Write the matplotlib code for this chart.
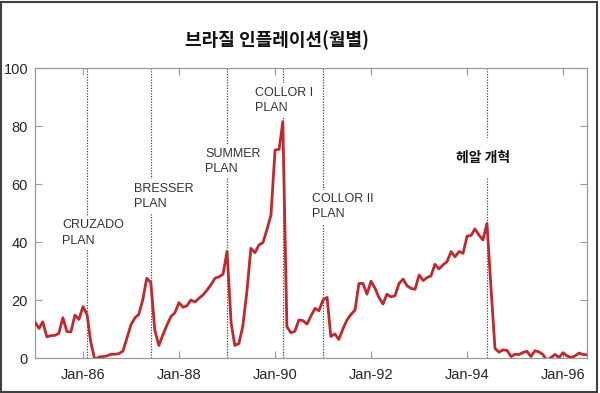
import matplotlib
matplotlib.use("Agg")
import matplotlib.pyplot as plt
import matplotlib.dates as mdates
import matplotlib.patches as patches
import pandas as pd
import numpy as np

plt.rcParams['font.family'] = ['Liberation Sans', 'Noto Sans CJK KR', 'DejaVu Sans']

title = "브라질 인플레이션(월별)"
start_month = "1985-01"
inflation = [
    # 1985
    12.3, 10.2, 12.5, 7.3, 7.7, 7.8, 8.5, 13.9, 9.1, 9.0, 14.8, 13.3,
    # 1986
    17.7, 15.0, 5.5, -0.6, 0.3, 0.5, 0.7, 1.3, 1.3, 1.5, 2.4, 6.8,
    # 1987
    11.5, 13.9, 15.0, 20.1, 27.5, 26.0, 9.7, 4.3, 8.0, 11.3, 14.3, 15.6,
    # 1988
    19.1, 17.5, 18.0, 20.0, 19.3, 20.6, 21.7, 23.4, 25.3, 27.5, 28.0, 28.9,
    # 1989
    36.7, 12.0, 4.3, 5.0, 11.0, 23.0, 37.8, 36.3, 39.0, 39.8, 44.4, 49.3,
    # 1990
    71.7, 72.0, 81.5, 10.8, 8.7, 9.2, 13.1, 12.9, 11.7, 14.5, 17.1, 16.3,
    # 1991
    20.0, 20.9, 7.4, 8.3, 6.4, 10.0, 13.0, 15.0, 16.5, 25.7, 25.7, 22.0,
    # 1992
    26.5, 24.0, 20.9, 18.6, 22.0, 21.1, 21.4, 25.7, 27.2, 24.9, 24.0, 23.7,
    # 1993
    28.6, 26.7, 27.7, 28.3, 32.3, 30.7, 32.1, 33.2, 36.7, 34.9, 36.7, 36.1,
    # 1994
    42.0, 42.3, 44.5, 42.4, 40.7, 46.4, 24.7, 3.3, 2.0, 2.8, 2.6, 0.5,
    # 1995
    1.3, 1.2, 1.9, 2.3, 0.5, 2.5, 2.1, 1.2, -1.0, 0.2, 1.2, 0.2,
    # 1996
    1.8, 0.7, 0.2, 0.7, 1.7, 1.2, 1.1,
]
plan_dates = ["1986-02", "1987-06", "1989-01", "1990-03", "1991-01", "1994-06"]
plan_labels = ["CRUZADO\nPLAN", "BRESSER\nPLAN", "SUMMER\nPLAN",
               "COLLOR I\nPLAN", "COLLOR II\nPLAN", "헤알 개혁"]
tick_dates = ["1986-01", "1988-01", "1990-01", "1992-01", "1994-01", "1996-01"]
y_ticks = [0, 20, 40, 60, 80, 100]

dates = pd.date_range(start_month, periods=len(inflation), freq="MS")

fig = plt.figure(figsize=(6.0, 3.93), dpi=100)
ax = fig.add_axes([35/600, 1-358/393, (587-35)/600, (358-68)/393])

red = "#c1272d"
ax.plot(dates, inflation, color=red, lw=2.0, zorder=3, solid_joinstyle='round')

# plan lines and labels (label anchor positions: month offset, y)
label_pos = [(-6.3, 43.1, 'left'), (-4.3, 55.7, 'left'), (-5.5, 67.9, 'left'),
             (-7.0, 88.8, 'left'), (-2.8, 52.1, 'left'), (-1.0, 69.0, 'center')]
for d, lab, (dx, yy, ha) in zip(plan_dates, plan_labels, label_pos):
    dt = pd.Timestamp(d)
    ax.axvline(dt, color="#444444", lw=0.9, ls=(0, (1, 1.2)), zorder=2)
    tx = dt + pd.DateOffset(days=int(dx * 30.44)) if dx >= 0 else dt - pd.DateOffset(days=int(-dx * 30.44))
    korean = not lab.isascii()
    ax.text(tx, yy, lab, ha=ha, va='center', zorder=4,
            fontsize=10 if korean else 9, color="#111111" if korean else "#333333",
            fontweight='bold' if korean else 'normal',
            family=['Noto Sans CJK KR'] if korean else ['Liberation Sans'],
            linespacing=1.35,
            bbox=dict(facecolor='white', edgecolor='none',
                      pad=9 if korean else 2.5))

ax.set_ylim(0, 100)
ax.set_xlim(dates[0], dates[-1])
ax.set_yticks(y_ticks)
ax.set_xticks([pd.Timestamp(t) for t in tick_dates])
ax.xaxis.set_major_formatter(mdates.DateFormatter('%b-%y'))

for s in ax.spines.values():
    s.set_color("#9a9a9a")
    s.set_linewidth(0.9)
ax.tick_params(direction='in', length=5, width=0.8, color="#9a9a9a",
               top=True, right=True, labelsize=10.5, labelcolor="#262626")
ax.tick_params(axis='x', pad=7)
ax.tick_params(axis='y', pad=5)

fig.text(277/600, 1-40/393, title, ha='center', va='center', fontsize=13,
         fontweight='bold', family=['Noto Sans CJK KR'], color="#111111")

fig.patches.append(patches.Rectangle((0.8/600, 1.5/393), 596/600, 389.5/393,
                                     transform=fig.transFigure, fill=False,
                                     edgecolor="#404040", lw=1.5))

fig.savefig("out.png", dpi=100)
